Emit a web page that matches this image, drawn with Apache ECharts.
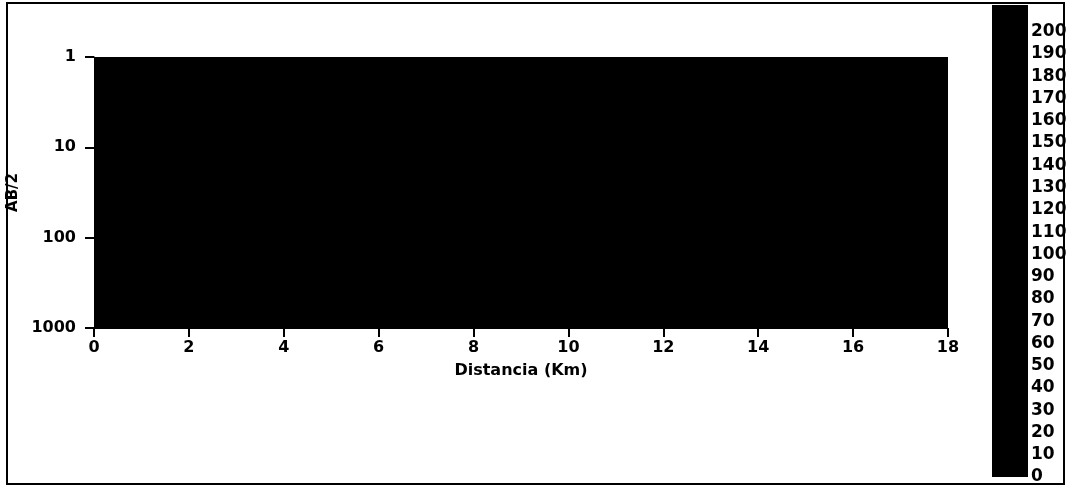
<!DOCTYPE html>
<html>
<head>
<meta charset="utf-8">
<script src="https://cdn.jsdelivr.net/npm/echarts@6/dist/echarts.min.js"></script>
<style>
html,body{margin:0;padding:0;background:#fff;}
#chart{width:1068px;height:487px;}
</style>
</head>
<body>
<div id="chart"></div>
<script>
// Pseudo-section cells: distance edges (km), AB/2 edges (m), apparent resistivity per cell
const distanceEdges = [0, 2, 4, 6, 8, 10, 12, 14, 16, 18];
const abEdges = [1, 10, 100, 1000];
const resistivity = [
  [60, 55, 70, 65, 50, 45, 60, 75, 70],
  [40, 35, 45, 50, 40, 30, 45, 55, 50],
  [25, 20, 30, 35, 25, 20, 30, 40, 35]
];
// Colour bar levels (lower bound of each band) and tick labels
const colorbarLevels = [0, 10, 20, 30, 40, 50, 60, 70, 80, 90, 100, 110, 120, 130, 140, 150, 160, 170, 180, 190, 200, 210];
const colorbarColors = ['#000000', '#000000'];
const xTickValues = [0, 2, 4, 6, 8, 10, 12, 14, 16, 18];
const yTickValues = [1, 10, 100, 1000];

const cellData = [];
for (let r = 0; r < abEdges.length - 1; r++) {
  for (let c = 0; c < distanceEdges.length - 1; c++) {
    cellData.push([distanceEdges[c], distanceEdges[c + 1], abEdges[r], abEdges[r + 1], resistivity[r][c]]);
  }
}
const barMax = 212;
const barData = colorbarLevels.map(v => [0, 1, v, Math.min(v + 10, barMax), v]);

const FONT = 'DejaVu Sans';
const chart = echarts.init(document.getElementById('chart'), null, {renderer: 'canvas'});
function cellRenderer(params, api) {
  const p0 = api.coord([api.value(0), api.value(2)]);
  const p1 = api.coord([api.value(1), api.value(3)]);
  const color = api.visual('color');
  return {
    type: 'rect',
    shape: {x: Math.min(p0[0], p1[0]), y: Math.min(p0[1], p1[1]),
      width: Math.abs(p1[0] - p0[0]), height: Math.abs(p1[1] - p0[1])},
    style: {fill: color, stroke: color, lineWidth: 1.5}
  };
}
chart.setOption({
  backgroundColor: '#ffffff',
  animation: false,
  graphic: [{
    type: 'rect', z: -10, silent: true,
    shape: {x: 7, y: 3, width: 1057, height: 481},
    style: {fill: 'none', stroke: '#000', lineWidth: 2}
  }],
  visualMap: [{
    type: 'continuous', show: false, min: 0, max: 200, dimension: 4,
    seriesIndex: [0, 1], inRange: {color: colorbarColors}
  }],
  grid: [
    {left: 94, right: 120, top: 57, bottom: 159, outerBoundsMode: 'none', containLabel: false},
    {left: 992, width: 36, top: 5, bottom: 10, outerBoundsMode: 'none', containLabel: false}
  ],
  xAxis: [{
    type: 'value', gridIndex: 0, min: 0, max: 18, interval: 2,
    splitLine: {show: false},
    axisLine: {show: true, lineStyle: {color: '#000', width: 1}},
    axisTick: {show: true, length: 9, lineStyle: {color: '#000', width: 2}},
    axisLabel: {color: '#000', fontFamily: FONT, fontWeight: 'bold', fontSize: 16, margin: 12,
      customValues: xTickValues},
    name: 'Distancia (Km)', nameLocation: 'middle', nameGap: 35,
    nameTextStyle: {color: '#000', fontFamily: FONT, fontWeight: 'bold', fontSize: 16}
  }, {
    type: 'value', gridIndex: 1, min: 0, max: 1, show: false
  }],
  yAxis: [{
    type: 'log', logBase: 10, gridIndex: 0, min: 1, max: 1000, inverse: true,
    splitLine: {show: false},
    axisLine: {show: true, lineStyle: {color: '#000', width: 1}},
    axisTick: {show: true, length: 9, lineStyle: {color: '#000', width: 2}},
    axisLabel: {color: '#000', fontFamily: FONT, fontWeight: 'bold', fontSize: 16, margin: 18,
      formatter: v => yTickValues.indexOf(Math.round(v)) >= 0 ? String(Math.round(v)) : ''},
    name: 'AB/2', nameLocation: 'middle', nameGap: 68,
    nameTextStyle: {color: '#000', fontFamily: FONT, fontWeight: 'bold', fontSize: 15}
  }, {
    type: 'value', gridIndex: 1, min: 0, max: barMax, interval: 10, position: 'right',
    splitLine: {show: false}, axisLine: {show: false}, axisTick: {show: false},
    axisLabel: {color: '#000', fontFamily: FONT, fontWeight: 'bold', fontSize: 17, margin: 3,
      showMaxLabel: false,
      formatter: v => v <= 200 ? String(v) : ''}
  }],
  series: [{
    type: 'custom', xAxisIndex: 0, yAxisIndex: 0, clip: true,
    encode: {x: [0, 1], y: [2, 3]},
    data: cellData,
    renderItem: cellRenderer
  }, {
    type: 'custom', xAxisIndex: 1, yAxisIndex: 1, clip: true,
    encode: {x: [0, 1], y: [2, 3]},
    data: barData,
    renderItem: cellRenderer
  }]
});
</script>
</body>
</html>
